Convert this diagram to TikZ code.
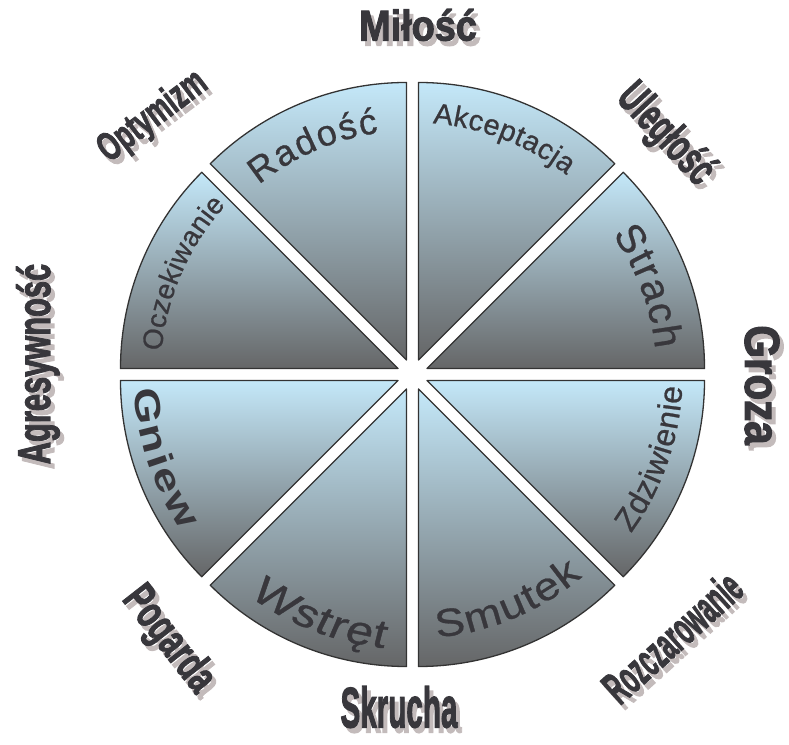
\documentclass[tikz,border=0pt]{standalone}
\usepackage{fontspec}
\setmainfont{Liberation Sans}
\usetikzlibrary{decorations.text}

% faces for the words inside the wheel and around it
\newfontfamily\sectorfont[FakeBold=0.8]{Liberation Sans}
\newfontfamily\sectorwide[FakeStretch=1.15,FakeBold=0.8]{Liberation Sans}
\newfontfamily\sectorslant[FakeStretch=1.2,FakeSlant=0.12,FakeBold=1]{Liberation Sans}
\newfontfamily\sectorheavy[FakeStretch=1.3]{Liberation Sans Bold}
\newfontfamily\ringfont[FakeBold=2.5]{Liberation Sans Bold}

\definecolor{skytop}{HTML}{C4E8F9}
\definecolor{skybot}{HTML}{656667}
\definecolor{ink}{HTML}{38373C}
\definecolor{rim}{HTML}{333333}
\definecolor{shade}{HTML}{C3BBBB}

\tikzset{
  sector/.style={draw=rim, line width=1.3pt, line join=round,
    top color=skytop, bottom color=skybot},
  ringtext/.style={inner sep=0pt, text=ink, font=\ringfont},
  ringshadow/.style={inner sep=0pt, text=shade, font=\ringfont},
}

% word bent along an arc of the wheel: start angle, end angle, radius, font, word
\newcommand\arcword[5]{%
  \path[decorate, decoration={text along path, text align=fit to path,
      text={|#4\color{ink}|#5}}]
    (#1:#3pt) arc[start angle=#1, end angle=#2, radius=#3pt];}

% outer word with its drop shadow: name, x, y, rotation, size, x-scale, word
\newcommand\ringword[7]{%
  \node[ringshadow, rotate=#4] (#1-shadow) at (#2+4,#3-5)
    {\fontsize{#5}{#5}\selectfont\scalebox{#6}[1]{#7}};
  \node[ringtext, rotate=#4] (#1) at (#2,#3)
    {\fontsize{#5}{#5}\selectfont\scalebox{#6}[1]{#7}};}

\begin{document}
\begin{tikzpicture}[x=1pt, y=1pt]
\useasboundingbox (0,0) rectangle (789,744);

% the wheel: eight pulled-apart sectors around its centre
\begin{scope}[shift={(412.5,369.5)}]
  \foreach \a in {0,45,...,315}{
    \pgfmathsetmacro\mid{\a+22.5}
    \path[sector, shift={(\mid:15.7pt)}]
      (0,0) -- (\a:277.5pt) arc[start angle=\a, end angle=\a+45, radius=277.5pt] -- cycle;
  }

  % upper half: words run clockwise, letters pointing outwards
  \arcword{129}{98}{244}{\sectorfont\fontsize{36}{42}\selectfont}{Radość}
  \arcword{85.4}{52.3}{252}{\sectorfont\fontsize{29}{34}\selectfont}{Akceptacja}
  \arcword{35}{6}{244}{\sectorfont\fontsize{40}{46}\selectfont}{Strach}
  \arcword{174.7}{137.8}{252}{\sectorfont\fontsize{28}{34}\selectfont}{Oczekiwanie}

  % lower half: words run anticlockwise, letters pointing inwards
  \arcword{183}{214}{279}{\sectorheavy\fontsize{36}{42}\selectfont}{Gniew}
  \arcword{233.6}{264}{275}{\sectorslant\fontsize{40}{46}\selectfont}{Wstręt}
  \arcword{275.3}{310}{264}{\sectorwide\fontsize{39}{45}\selectfont}{Smutek}
  \arcword{324}{357.4}{270}{\sectorfont\fontsize{32}{38}\selectfont}{Zdziwienie}
\end{scope}

% words around the wheel
\ringword{milosc}{418}{719}{0}{43}{0.88}{Miłość}
\ringword{uleglosc}{665}{609}{-47}{46}{0.63}{Uległość}
\ringword{groza}{762}{359}{-90}{49}{0.86}{Groza}
\ringword{rozczarowanie}{672}{107}{42}{46}{0.51}{Rozczarowanie}
\ringword{skrucha}{399}{37}{0}{57}{0.52}{Skrucha}
\ringword{pogarda}{168}{104}{-52}{46}{0.66}{Pogarda}
\ringword{agresywnosc}{38}{380}{90}{46}{0.67}{Agresywność}
\ringword{optymizm}{153}{627}{37}{40}{0.65}{Optymizm}
\end{tikzpicture}
\end{document}
